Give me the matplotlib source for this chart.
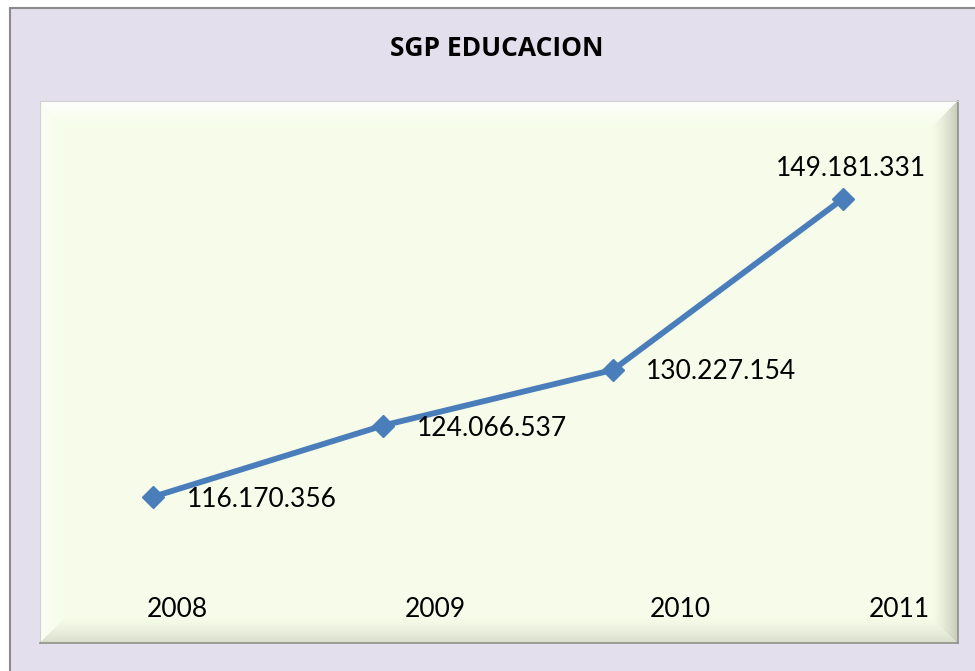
import numpy as np
import matplotlib
matplotlib.use('Agg')
import matplotlib.pyplot as plt
from matplotlib.patches import Rectangle

# data
years = ['2008', '2009', '2010', '2011']
valores = [116170356, 124066537, 130227154, 149181331]
etiquetas = ['116.170.356', '124.066.537', '130.227.154', '149.181.331']

# label offsets in pixels (dx, dy) and alignment, like the excel chart
label_off = [(34, -3, 'left'), (34, -3, 'left'), (33, -2, 'left'), (8, 30, 'center')]
year_xfrac = [0.150, 0.431, 0.698, 0.936]

W, H, DPI = 975, 671, 100
fig = plt.figure(figsize=(W / DPI, H / DPI), dpi=DPI, facecolor='white')

# outer lavender box with grey border
fig.patches.append(Rectangle((10 / W, -0.05), 1.1, (H - 8) / H + 0.05, transform=fig.transFigure,
                             facecolor='#e4dfec', edgecolor='#8a8a8a', linewidth=1.5, zorder=-5))

# plot area
ax_l, ax_t, ax_r, ax_b = 40, 101, 958, 643
ax = fig.add_axes([ax_l / W, (H - ax_b) / H, (ax_r - ax_l) / W, (ax_b - ax_t) / H])
ax.set_zorder(2)

x = np.arange(len(years))
ax.set_xlim(-0.49, 3.5)
ax.set_ylim(100e6, 160e6)

# bevel background
hh, ww = ax_b - ax_t, ax_r - ax_l
base = np.array([0.965, 0.992, 0.914])
img = np.ones((hh, ww, 3)) * base
yy, xx = np.mgrid[0:hh, 0:ww]
d_top, d_bot, d_left, d_right = yy, hh - 1 - yy, xx, ww - 1 - xx
dmin = np.minimum(np.minimum(d_top, d_bot), np.minimum(d_left, d_right))
b = 28.0
edges = [(d_top, np.array([1.0, 1.0, 1.0]), 1.0),
         (d_left, np.array([0.99, 0.995, 0.97]), 0.8),
         (d_bot, np.array([0.84, 0.86, 0.79]), 0.9),
         (d_right, np.array([0.78, 0.80, 0.73]), 1.0)]
for d, col, strength in edges:
    m = (d == dmin) & (d < b)
    t = ((1 - d / b) ** 1.5 * strength)[m][:, None]
    img[m] = img[m] * (1 - t) + col * t
ax.imshow(img, extent=(-0.49, 3.5, 100e6, 160e6), aspect='auto', zorder=0,
          interpolation='bilinear')

for s in ['top', 'left']:
    ax.spines[s].set_color('#d0d0d0')
    ax.spines[s].set_linewidth(0.8)
for s in ['bottom', 'right']:
    ax.spines[s].set_color('#8e9286')
    ax.spines[s].set_linewidth(1.2)
ax.set_xticks([])
ax.set_yticks([])

ax.plot(x, valores, color='#4a7ebb', linewidth=4.2, marker='D', markersize=11,
        markerfacecolor='#4a7ebb', markeredgecolor='#4a7ebb', zorder=3)

for xi, v, lab, (dx, dy, ha) in zip(x, valores, etiquetas, label_off):
    ax.annotate(lab, (xi, v), xytext=(dx * 0.72, dy * 0.72), textcoords='offset points',
                ha=ha, va='center', fontsize=19, family='Lato', color='black', zorder=4)

for xf, yr in zip(year_xfrac, years):
    ax.text(xf, 0.061, yr, transform=ax.transAxes, ha='center', va='center',
            fontsize=19, family='Lato', color='black')

fig.text(497 / W, 1 - 48 / H, 'SGP EDUCACION', ha='center', va='center',
         fontsize=19, fontweight='bold', family='Open Sans', color='black')

fig.savefig('out.png', dpi=DPI, facecolor=fig.get_facecolor())
